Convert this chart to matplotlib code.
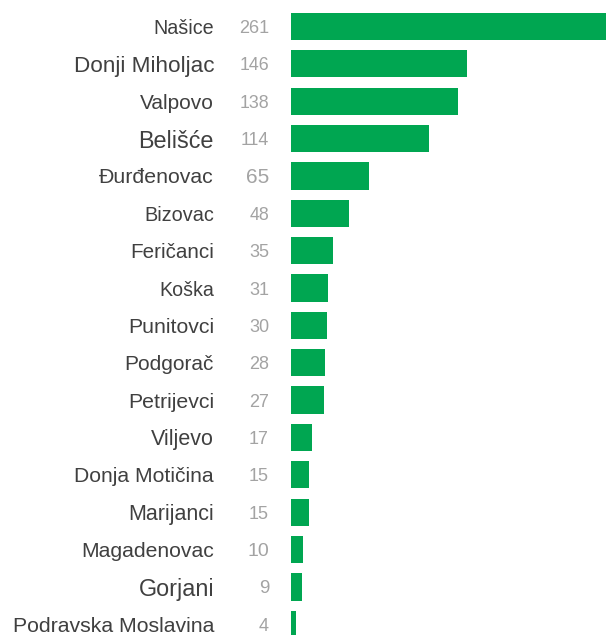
import matplotlib
matplotlib.use('Agg')
import matplotlib.pyplot as plt
import matplotlib.transforms as mtransforms

# municipalities and counts (top to bottom)
names = ['Našice', 'Donji Miholjac', 'Valpovo', 'Belišće', 'Đurđenovac', 'Bizovac',
         'Feričanci', 'Koška', 'Punitovci', 'Podgorač', 'Petrijevci', 'Viljevo',
         'Donja Motičina', 'Marijanci', 'Magadenovac', 'Gorjani', 'Podravska Moslavina']
values = [261, 146, 138, 114, 65, 48, 35, 31, 30, 28, 27, 17, 15, 15, 10, 9, 4]

# text sizes differ a little from row to row in the original
name_sizes = [14.2, 16.2, 15.0, 16.8, 15.3, 14.3, 14.9, 14.1, 15.3, 15.0, 15.3, 15.5,
              15.2, 15.5, 15.2, 16.8, 15.3]
value_sizes = [13, 12.8, 12.8, 12.8, 15, 12.8, 13, 13, 13, 13, 13, 13,
               13, 13, 14, 13.5, 13]

W, H = 606, 635
fig = plt.figure(figsize=(W / 100, H / 100), dpi=100)
ax = fig.add_axes([291 / W, 0, 1 - 291 / W, 1])

green = '#00a651'
ypos = list(range(len(names)))
ax.barh(ypos, values, height=0.73, color=green)

pitch = 37.36
top_c = 26.5
ax.set_ylim((H - top_c) / pitch, -top_c / pitch)
ax.set_xlim(0, 261)
ax.axis('off')

trans = mtransforms.blended_transform_factory(fig.transFigure, ax.transData)
for i, (n, v) in enumerate(zip(names, values)):
    ax.text(214 / W, i, n, transform=trans, ha='right', va='center_baseline',
            fontsize=name_sizes[i], color='#404040', family='Liberation Sans')
    ax.text(269 / W, i, str(v), transform=trans, ha='right', va='center_baseline',
            fontsize=value_sizes[i], color='#a3a3a3', family='Liberation Sans')

fig.savefig('out.png', dpi=100)
